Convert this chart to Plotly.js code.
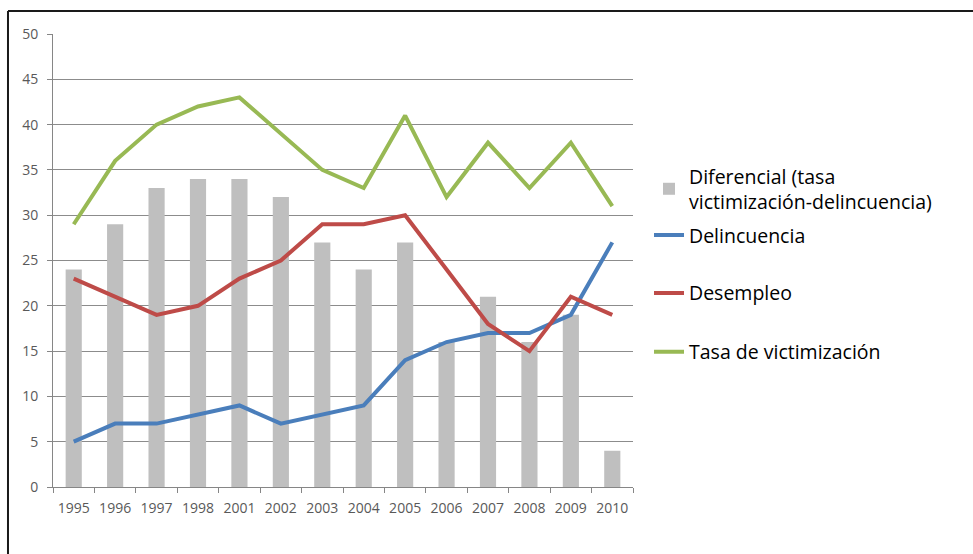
<!DOCTYPE html>
<html>
<head>
<meta charset="utf-8">
<script src="https://cdn.plot.ly/plotly-3.0.1.min.js"></script>
<style>
html,body{margin:0;padding:0;background:#fff;}
#chart{width:973px;height:554px;}
</style>
</head>
<body>
<div id="chart"></div>
<script>
var years = ["1995","1996","1997","1998","2001","2002","2003","2004","2005","2006","2007","2008","2009","2010"];
var diferencial = [24,29,33,34,34,32,27,24,27,16,21,16,19,4];
var delincuencia = [5,7,7,8,9,7,8,9,14,16,17,17,19,27];
var desempleo = [23,21,19,20,23,25,29,29,30,24,18,15,21,19];
var victimizacion = [29,36,40,42,43,39,35,33,41,32,38,33,38,31];
var yTicks = [0,5,10,15,20,25,30,35,40,45,50];

var names = ["Diferencial (tasa<br>victimización-delincuencia)","Delincuencia","Desempleo","Tasa de victimización"];

var traces = [
  {type:"bar", x:years, y:diferencial, name:names[0], marker:{color:"#BFBFBF"}, legend:"legend"},
  {type:"scatter", mode:"lines", x:years, y:delincuencia, name:names[1], line:{color:"#4A7EBB", width:4}, legend:"legend2"},
  {type:"scatter", mode:"lines", x:years, y:desempleo, name:names[2], line:{color:"#BE4B48", width:4}, legend:"legend3"},
  {type:"scatter", mode:"lines", x:years, y:victimizacion, name:names[3], line:{color:"#98B954", width:4}, legend:"legend4"}
];

var legFont = {family:"'Open Sans', 'Noto Sans', sans-serif", size:19.5, color:"#000"};
function leg(y){ return {x:1.0276, xanchor:"left", y:y, yanchor:"middle", font:legFont, bgcolor:"rgba(0,0,0,0)", borderwidth:0}; }

var tickFont = {family:"'Open Sans', 'Noto Sans', sans-serif", size:14, color:"#595959"};

var layout = {
  width:973, height:554,
  margin:{l:53, r:340, t:33.5, b:67},
  paper_bgcolor:"#fff", plot_bgcolor:"#fff",
  font:{family:"'Open Sans', 'Noto Sans', sans-serif", color:"#595959"},
  bargap:0.61,
  showlegend:true,
  legend:leg(0.658),
  legend2:leg(0.5557),
  legend3:leg(0.4278),
  legend4:leg(0.2977),
  xaxis:{type:"category", showgrid:false, showline:true, linecolor:"#868686", linewidth:1,
         ticks:"outside", ticklen:5, tickcolor:"#868686", tickson:"boundaries", ticklabelstandoff:8,
         tickfont:tickFont, fixedrange:true},
  yaxis:{range:[0,50], tickmode:"array", tickvals:yTicks, showgrid:true, gridcolor:"#8C8C8C", gridwidth:1,
         showline:true, linecolor:"#868686", linewidth:1, ticks:"outside", ticklen:5, tickcolor:"#868686",
         ticklabelstandoff:6, tickfont:tickFont, zeroline:false, fixedrange:true},
  shapes:[
    {type:"line", xref:"paper", yref:"paper", x0:-0.0776, x1:-0.0776, y0:-0.2, y1:1.0507, line:{color:"#1a1a1a", width:2}},
    {type:"line", xref:"paper", yref:"paper", x0:-0.0776, x1:1.6, y0:1.0507, y1:1.0507, line:{color:"#1a1a1a", width:2}}
  ]
};

Plotly.newPlot("chart", traces, layout, {displayModeBar:false, staticPlot:true});
</script>
</body>
</html>
